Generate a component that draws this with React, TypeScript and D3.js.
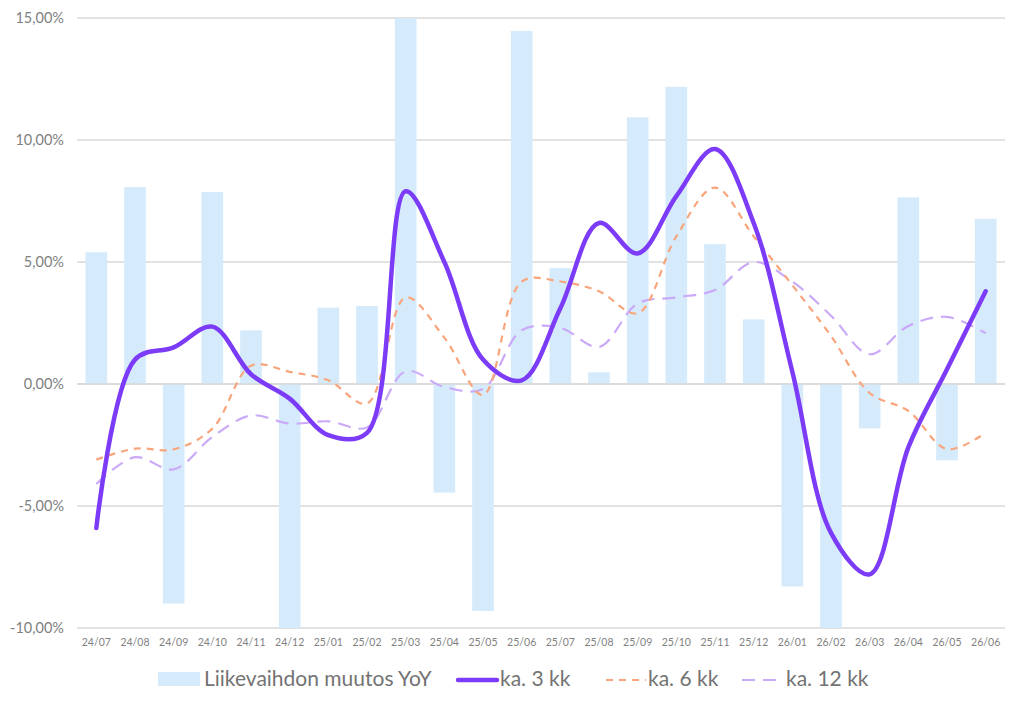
import React from "react";
import * as d3 from "d3";

const categories = ["24/07","24/08","24/09","24/10","24/11","24/12","25/01","25/02","25/03","25/04","25/05","25/06","25/07","25/08","25/09","25/10","25/11","25/12","26/01","26/02","26/03","26/04","26/05","26/06"];
const yoy = [5.4, 8.07, -9.0, 7.87, 2.2, -10.4, 3.13, 3.2, 15.2, -4.45, -9.3, 14.47, 4.75, 0.48, 10.93, 12.18, 5.73, 2.65, -8.3, -10.4, -1.82, 7.65, -3.13, 6.77];
const avg3 = [-5.9, 1.0, 1.5, 2.35, 0.4, -0.6, -2.1, -2.0, 7.9, 5.0, 1.0, 0.15, 3.1, 6.6, 5.35, 7.7, 9.63, 6.6, 0.5, -6.1, -7.8, -2.6, 0.6, 3.8];
const avg6 = [-3.1, -2.65, -2.68, -1.83, 0.75, 0.5, 0.15, -0.8, 3.55, 1.9, -0.45, 4.2, 4.2, 3.8, 2.9, 6.05, 8.05, 6.05, 4.05, 1.97, -0.37, -1.1, -2.67, -2.0];
const avg12 = [-4.1, -3.0, -3.5, -2.17, -1.29, -1.62, -1.53, -1.78, 0.52, -0.12, -0.2, 2.2, 2.3, 1.52, 3.3, 3.55, 3.85, 5.0, 4.2, 2.8, 1.22, 2.38, 2.75, 2.08];
const yTicks = [-10, -5, 0, 5, 10, 15];

const W = 1024, H = 708;
const left = 77, right = 1005, top = 18, bottom = 628;
const FONT = "Lato, 'Open Sans', sans-serif";

export default function App() {
  const x = d3.scaleBand<string>().domain(categories).range([left, right]).paddingInner(0.44).paddingOuter(0.22);
  const y = d3.scaleLinear().domain([-10, 15]).range([bottom, top]);
  const cx = (i: number) => (x(categories[i]) as number) + x.bandwidth() / 2;
  const line = d3.line<number>().x((_, i) => cx(i)).y((d) => y(d)).curve(d3.curveCatmullRom.alpha(0.5));
  const clip = (v: number) => Math.max(-10, Math.min(15, v));
  const fmt = (v: number) => v.toFixed(2).replace(".", ",") + "%";

  return (
    <svg width={W} height={H} style={{ position: "absolute", left: 0, top: 0, background: "#fff" }}>
      <defs>
        <clipPath id="plot"><rect x={left} y={top} width={right - left} height={bottom - top} /></clipPath>
      </defs>
      {yTicks.map((t) => (
        <g key={t}>
          <line x1={left} x2={right} y1={y(t)} y2={y(t)} stroke="#d9d9d9" strokeWidth={1.3} />
          <text x={64} y={y(t)} dy="0.35em" textAnchor="end" fontFamily={FONT} fontSize={14.5} fill="#7f7f7f">{fmt(t)}</text>
        </g>
      ))}
      <g>
        {yoy.map((v, i) => {
          const c = clip(v);
          return (
            <rect key={i} x={x(categories[i])} width={x.bandwidth()} y={Math.min(y(c), y(0))} height={Math.abs(y(c) - y(0))} fill="#d5ebfc" />
          );
        })}
      </g>
      <line x1={left} x2={right} y1={y(0)} y2={y(0)} stroke="#d9d9d9" strokeWidth={1.3} />
      <g clipPath="url(#plot)" fill="none">
        <path d={line(avg12) || ""} stroke="#caa9f8" strokeWidth={2.2} strokeDasharray="13,8" />
        <path d={line(avg6) || ""} stroke="#f9a57c" strokeWidth={2.2} strokeDasharray="7,6" />
        <path d={line(avg3) || ""} stroke="#7c3cf7" strokeWidth={4.5} strokeLinecap="round" />
      </g>
      {categories.map((c, i) => (
        <text key={c} x={cx(i)} y={646} textAnchor="middle" fontFamily={FONT} fontSize={10.5} fill="#7f7f7f">{c}</text>
      ))}
      <g fontFamily={FONT} fontSize={21} fill="#737373">
        <rect x={158} y={672} width={42} height={14} fill="#d5ebfc" />
        <text x={204} y={679} dy="0.35em">Liikevaihdon muutos YoY</text>
        <line x1={458} x2={497} y1={680} y2={680} stroke="#7c3cf7" strokeWidth={4.5} strokeLinecap="round" />
        <text x={500} y={679} dy="0.35em">ka. 3 kk</text>
        <line x1={606} x2={646} y1={680} y2={680} stroke="#f9a57c" strokeWidth={2.2} strokeDasharray="7,6" />
        <text x={648} y={679} dy="0.35em">ka. 6 kk</text>
        <line x1={742} x2={784} y1={680} y2={680} stroke="#caa9f8" strokeWidth={2.2} strokeDasharray="13,8" />
        <text x={786} y={679} dy="0.35em">ka. 12 kk</text>
      </g>
    </svg>
  );
}
